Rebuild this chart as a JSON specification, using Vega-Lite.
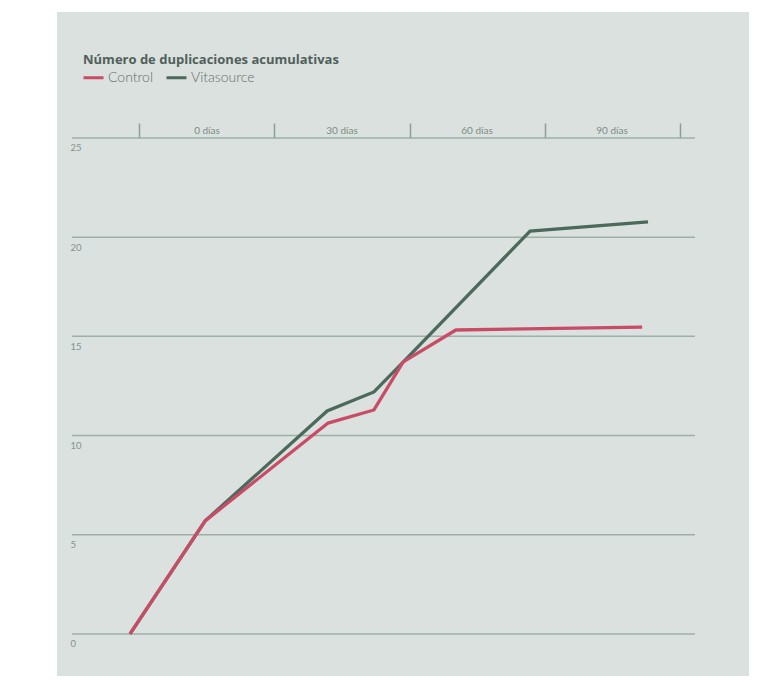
{
  "$schema": "https://vega.github.io/schema/vega-lite/v6.json",
  "autosize": {"type": "none"},
  "width": 692,
  "height": 664,
  "padding": {"left": 57, "top": 12, "right": 28, "bottom": 16},
  "background": "#ffffff",
  "config": {
    "view": {"fill": "#dbe1de", "stroke": null},
    "font": "Lato"
  },
  "title": {
    "text": "Número de duplicaciones acumulativas",
    "anchor": "start",
    "frame": "group",
    "orient": "top",
    "baseline": "alphabetic",
    "offset": 0,
    "dx": 26,
    "dy": 65,
    "fontSize": 13,
    "fontWeight": "bold",
    "color": "#50605b",
    "font": "Open Sans"
  },
  "datasets": {
    "grid": [{"v": 0}, {"v": 5}, {"v": 10}, {"v": 15}, {"v": 20}, {"v": 25}],
    "series": [
      {"serie": "Vitasource", "dia": -17.1, "valor": 0},
      {"serie": "Vitasource", "dia": -0.4, "valor": 5.7},
      {"serie": "Vitasource", "dia": 26.7, "valor": 11.24},
      {"serie": "Vitasource", "dia": 37.1, "valor": 12.2},
      {"serie": "Vitasource", "dia": 43.8, "valor": 13.75},
      {"serie": "Vitasource", "dia": 71.8, "valor": 20.31},
      {"serie": "Vitasource", "dia": 98, "valor": 20.77},
      {"serie": "Control", "dia": -17.1, "valor": 0},
      {"serie": "Control", "dia": -0.4, "valor": 5.7},
      {"serie": "Control", "dia": 26.9, "valor": 10.63},
      {"serie": "Control", "dia": 37.1, "valor": 11.29},
      {"serie": "Control", "dia": 43.6, "valor": 13.71},
      {"serie": "Control", "dia": 55.3, "valor": 15.32},
      {"serie": "Control", "dia": 96.7, "valor": 15.47}
    ]
  },
  "layer": [
    {
      "data": {"name": "grid"},
      "mark": {"type": "rule", "color": "#9eafa8", "strokeWidth": 1.5},
      "encoding": {
        "x": {
          "datum": -30,
          "type": "quantitative",
          "scale": {"domain": [-33.33, 120.44], "nice": false, "zero": false},
          "axis": {
            "orient": "top",
            "offset": -126,
            "values": [-15, 15, 45, 75, 105],
            "labelExpr": "datum.value == 105 ? '' : (datum.value + 15) + ' días'",
            "domain": false,
            "grid": false,
            "ticks": true,
            "tickSize": 15,
            "tickWidth": 1.5,
            "tickColor": "#8d9d97",
            "labelOffset": 67,
            "labelAlign": "center",
            "labelPadding": -12,
            "labelFontSize": 10,
            "labelColor": "#7d8b86",
            "labelFont": "Lato",
            "title": null
          }
        },
        "x2": {"datum": 108.44},
        "y": {
          "field": "v",
          "type": "quantitative",
          "scale": {"domain": [-2.12, 31.35], "nice": false, "zero": false},
          "axis": {
            "orient": "left",
            "offset": -13,
            "values": [0, 5, 10, 15, 20, 25],
            "domain": false,
            "ticks": false,
            "grid": false,
            "labelAlign": "left",
            "labelBaseline": "middle",
            "labelPadding": 0,
            "labelOffset": 10,
            "labelFontSize": 9.5,
            "labelColor": "#84928d",
            "labelFont": "Lato",
            "title": null
          }
        }
      }
    },
    {
      "data": {"name": "series"},
      "transform": [{"filter": "datum.serie == 'Vitasource'"}],
      "mark": {"type": "line", "strokeWidth": 3.3, "strokeJoin": "miter"},
      "encoding": {
        "x": {"field": "dia", "type": "quantitative"},
        "y": {"field": "valor", "type": "quantitative"},
        "color": {
          "field": "serie",
          "type": "nominal",
          "scale": {"domain": ["Control", "Vitasource"], "range": ["#c94c66", "#4b6a5c"]},
          "legend": {
            "orient": "none",
            "legendX": 25,
            "legendY": 54,
            "direction": "horizontal",
            "title": null,
            "symbolType": "stroke",
            "symbolSize": 400,
            "symbolStrokeWidth": 3,
            "labelFontSize": 14,
            "labelFont": "Lato",
            "labelFontWeight": 300,
            "labelColor": "#5f6e69",
            "labelOffset": 3,
            "columnPadding": 6
          }
        }
      }
    },
    {
      "data": {"name": "series"},
      "transform": [{"filter": "datum.serie == 'Control'"}],
      "mark": {"type": "line", "strokeWidth": 3.3, "strokeJoin": "miter"},
      "encoding": {
        "x": {"field": "dia", "type": "quantitative"},
        "y": {"field": "valor", "type": "quantitative"},
        "color": {"field": "serie", "type": "nominal"}
      }
    }
  ]
}
